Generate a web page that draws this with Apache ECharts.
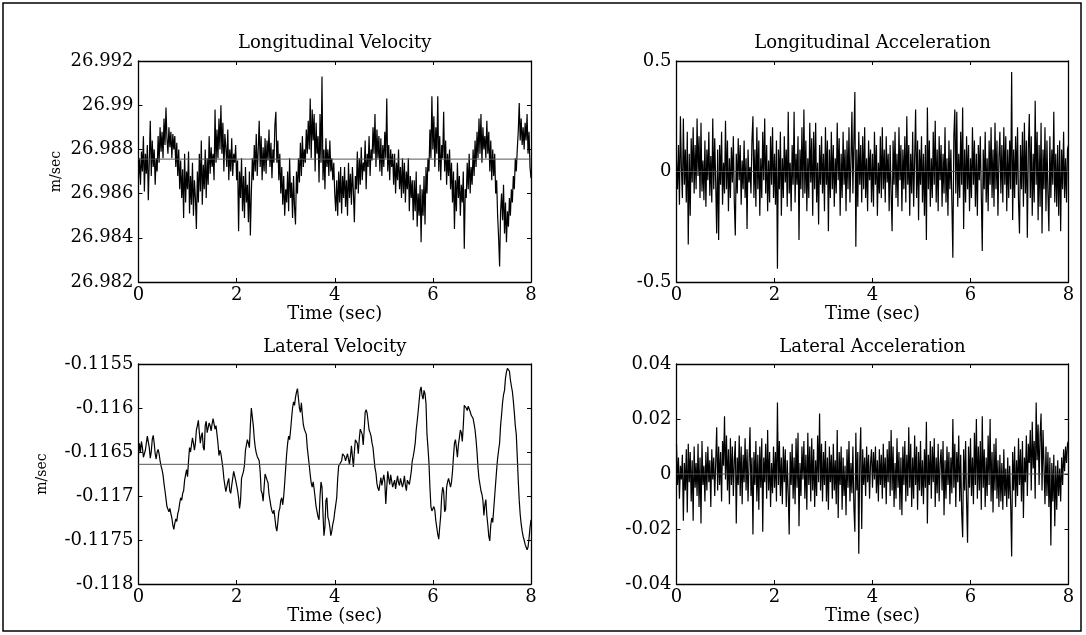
<!DOCTYPE html>
<html><head><meta charset="utf-8">
<script src="https://cdn.jsdelivr.net/npm/echarts@6/dist/echarts.min.js"></script>
<style>html,body{margin:0;padding:0;background:#fff}#c{width:1086px;height:635px}</style>
</head><body><div id="c"></div>
<script>
// ---------- data ----------
const duration = 8; // seconds, samples evenly spaced from 0 to 8
const timeTickLabels = ['0', '2', '4', '6', '8'];
const panelTitles = ['Longitudinal Velocity', 'Longitudinal Acceleration', 'Lateral Velocity', 'Lateral Acceleration'];
const xAxisName = 'Time (sec)';
const yAxisUnit = 'm/sec';

const longVelTickLabels = ['26.982', '26.984', '26.986', '26.988', '26.99', '26.992'];
const longAccTickLabels = ['-0.5', '0', '0.5'];
const latVelTickLabels = ['-0.118', '-0.1175', '-0.117', '-0.1165', '-0.116', '-0.1155'];
const latAccTickLabels = ['-0.04', '-0.02', '0', '0.02', '0.04'];

const longVelMean = 26.98756;
const longAccMean = 0;
const latVelMean = -0.11664;
const latAccMean = 0;

const longitudinalVelocity = [
26.9867,26.9876,26.9864,26.9879,26.9870,26.9886,26.9861,26.9878,26.9869,26.9882,
26.9857,26.9875,26.9893,26.9868,26.9884,26.9872,26.9880,26.9864,26.9876,26.9870,
26.9886,26.9874,26.9890,26.9879,26.9888,26.9876,26.9894,26.9882,26.9899,26.9885,
26.9878,26.9890,26.9881,26.9888,26.9876,26.9887,26.9880,26.9886,26.9872,26.9883,
26.9868,26.9880,26.9862,26.9875,26.9858,26.9871,26.9849,26.9878,26.9856,26.9870,
26.9862,26.9879,26.9851,26.9868,26.9855,26.9874,26.9850,26.9866,26.9858,26.9844,
26.9870,26.9856,26.9878,26.9861,26.9884,26.9855,26.9873,26.9862,26.9880,26.9858,
26.9876,26.9864,26.9886,26.9869,26.9881,26.9872,26.9878,26.9866,26.9898,26.9874,
26.9889,26.9876,26.9894,26.9880,26.9900,26.9878,26.9892,26.9870,26.9887,26.9881,
26.9872,26.9889,26.9866,26.9880,26.9870,26.9885,26.9868,26.9878,26.9874,26.9882,
26.9866,26.9875,26.9843,26.9870,26.9858,26.9876,26.9852,26.9868,26.9849,26.9872,
26.9856,26.9864,26.9847,26.9870,26.9841,26.9860,26.9876,26.9866,26.9882,26.9870,
26.9887,26.9868,26.9880,26.9893,26.9872,26.9886,26.9866,26.9881,26.9870,26.9885,
26.9869,26.9884,26.9875,26.9889,26.9872,26.9883,26.9867,26.9880,26.9874,26.9891,
26.9897,26.9874,26.9884,26.9866,26.9878,26.9860,26.9872,26.9855,26.9868,26.9850,
26.9862,26.9856,26.9870,26.9852,26.9876,26.9858,26.9865,26.9849,26.9868,26.9854,
26.9846,26.9870,26.9860,26.9876,26.9865,26.9883,26.9868,26.9886,26.9872,26.9880,
26.9874,26.9889,26.9878,26.9893,26.9880,26.9903,26.9876,26.9898,26.9884,26.9896,
26.9870,26.9892,26.9878,26.9886,26.9865,26.9896,26.9874,26.9913,26.9866,26.9880,
26.9862,26.9885,26.9872,26.9880,26.9868,26.9884,26.9870,26.9876,26.9866,26.9874,
26.9860,26.9852,26.9866,26.9850,26.9870,26.9856,26.9872,26.9851,26.9868,26.9858,
26.9872,26.9854,26.9866,26.9850,26.9874,26.9858,26.9869,26.9855,26.9872,26.9861,
26.9847,26.9868,26.9862,26.9879,26.9860,26.9876,26.9864,26.9881,26.9866,26.9874,
26.9870,26.9884,26.9862,26.9878,26.9872,26.9886,26.9868,26.9880,26.9875,26.9890,
26.9878,26.9896,26.9872,26.9889,26.9876,26.9886,26.9870,26.9885,26.9868,26.9882,
26.9872,26.9888,26.9876,26.9903,26.9870,26.9882,26.9866,26.9880,26.9872,26.9878,
26.9864,26.9878,26.9860,26.9874,26.9866,26.9880,26.9862,26.9872,26.9858,26.9876,
26.9860,26.9874,26.9856,26.9870,26.9862,26.9876,26.9852,26.9868,26.9858,26.9866,
26.9848,26.9866,26.9852,26.9870,26.9845,26.9860,26.9850,26.9864,26.9838,26.9862,
26.9850,26.9868,26.9846,26.9872,26.9860,26.9876,26.9870,26.9889,26.9876,26.9904,
26.9880,26.9895,26.9872,26.9890,26.9878,26.9904,26.9870,26.9886,26.9866,26.9882,
26.9876,26.9897,26.9870,26.9884,26.9864,26.9878,26.9868,26.9880,26.9862,26.9874,
26.9856,26.9870,26.9844,26.9866,26.9852,26.9874,26.9858,26.9868,26.9850,26.9864,
26.9856,26.9870,26.9835,26.9862,26.9858,26.9874,26.9862,26.9878,26.9860,26.9872,
26.9864,26.9880,26.9868,26.9884,26.9872,26.9888,26.9876,26.9894,26.9878,26.9896,
26.9874,26.9890,26.9880,26.9886,26.9876,26.9893,26.9878,26.9888,26.9870,26.9884,
26.9866,26.9880,26.9868,26.9878,26.9860,26.9866,26.9850,26.9840,26.9827,26.9852,
26.9860,26.9848,26.9864,26.9842,26.9856,26.9838,26.9852,26.9845,26.9858,26.9850,
26.9862,26.9856,26.9868,26.9862,26.9876,26.9870,26.9880,26.9888,26.9901,26.9884,
26.9894,26.9882,26.9890,26.9880,26.9892,26.9884,26.9896,26.9878,26.9888,26.9872,
26.9867];

const longitudinalAcceleration = [
0.05,-0.08,0.12,-0.15,0.25,0.02,-0.12,0.24,-0.06,0.10,
-0.14,0.18,-0.33,0.08,-0.20,0.15,-0.05,0.20,-0.10,0.12,
-0.08,0.24,-0.02,0.16,-0.12,0.22,-0.09,0.05,-0.13,0.14,
-0.16,0.10,-0.04,0.18,-0.11,0.07,-0.14,0.24,-0.08,0.15,
-0.05,-0.28,0.10,-0.31,0.12,-0.06,0.18,-0.15,0.04,-0.10,
0.23,-0.08,0.14,-0.18,0.06,-0.12,0.11,-0.05,0.16,-0.14,
-0.29,0.08,-0.10,0.15,-0.04,0.12,-0.15,0.05,-0.08,0.14,
-0.12,0.06,-0.26,0.10,-0.05,0.02,-0.10,0.14,0.25,-0.12,
0.10,-0.16,0.20,-0.08,0.14,-0.20,0.06,-0.12,0.18,-0.04,
0.24,-0.10,0.12,-0.18,0.05,-0.14,0.16,-0.06,0.20,-0.12,
0.08,-0.15,0.14,-0.44,0.10,-0.08,0.18,-0.20,0.06,-0.12,
0.16,-0.05,0.10,-0.16,0.27,-0.10,0.04,-0.18,0.12,-0.06,
0.27,-0.14,0.08,-0.06,0.16,-0.31,0.10,-0.08,0.20,-0.12,
0.28,-0.10,0.14,-0.18,0.06,-0.12,0.22,-0.05,0.15,-0.20,
0.18,-0.08,0.22,-0.14,0.04,-0.24,0.12,-0.06,0.16,-0.10,
0.08,-0.18,0.20,-0.06,0.14,-0.27,0.10,-0.12,0.18,-0.08,
0.12,-0.16,0.06,-0.10,0.22,-0.04,0.15,-0.20,0.08,-0.12,
0.18,-0.06,0.10,-0.18,0.14,-0.08,0.20,-0.14,0.05,0.27,
-0.10,0.14,0.36,-0.34,0.10,-0.16,0.18,-0.06,0.12,-0.14,
0.16,-0.08,0.20,-0.12,0.06,-0.18,0.14,-0.04,0.10,-0.14,
0.08,-0.16,0.18,-0.06,0.12,-0.20,0.04,-0.10,0.16,-0.12,
0.20,-0.08,0.10,-0.14,0.16,-0.05,0.08,-0.18,0.12,-0.10,
-0.27,0.14,-0.06,0.18,-0.12,0.08,-0.16,0.20,-0.04,0.12,
-0.18,0.10,-0.08,0.16,-0.14,0.25,-0.06,0.12,-0.20,0.08,
-0.10,0.18,-0.16,0.06,0.28,-0.12,0.14,-0.22,0.10,-0.06,
0.16,-0.14,0.08,-0.20,0.12,-0.31,0.29,-0.08,0.14,-0.16,
0.06,-0.12,0.18,-0.06,0.23,-0.14,0.10,-0.18,0.16,-0.04,
0.12,-0.16,0.08,-0.10,0.20,-0.14,0.06,-0.20,0.14,-0.08,
0.10,-0.14,-0.39,0.16,0.28,-0.10,0.27,-0.16,0.08,-0.12,
0.18,-0.06,0.29,-0.26,0.10,-0.14,0.16,-0.08,0.12,-0.18,
0.06,-0.12,0.20,-0.06,0.14,-0.16,0.08,-0.20,0.12,-0.04,
0.16,-0.10,-0.36,0.10,-0.08,0.18,-0.14,0.06,-0.18,0.14,
-0.06,0.20,-0.12,0.10,-0.16,0.22,-0.08,0.14,-0.20,0.06,
0.18,-0.10,0.12,-0.14,0.20,-0.06,0.16,-0.18,0.10,-0.12,
0.14,-0.08,0.45,-0.22,0.10,-0.12,0.16,-0.06,0.20,-0.14,
-0.28,0.12,-0.08,0.18,-0.16,0.22,-0.10,0.14,-0.30,0.10,
0.26,-0.12,0.16,-0.20,0.08,-0.14,0.32,-0.06,0.18,-0.22,
0.12,-0.16,0.22,-0.28,0.10,-0.08,0.20,-0.18,0.14,-0.10,
-0.27,0.16,-0.12,0.10,-0.06,0.27,-0.14,0.08,-0.16,0.12,
-0.20,0.14,-0.27,0.10,-0.08,0.18,-0.12,0.06,-0.14,0.10,
0.12];

const lateralVelocity = [
-0.11653,-0.11640,-0.11650,-0.11638,-0.11645,-0.11656,-0.11658,-0.11648,-0.11640,-0.11632,
-0.11630,-0.11645,-0.11657,-0.11650,-0.11636,-0.11631,-0.11640,-0.11652,-0.11658,-0.11650,
-0.11647,-0.11652,-0.11660,-0.11666,-0.11670,-0.11676,-0.11686,-0.11694,-0.11703,-0.11712,
-0.11714,-0.11718,-0.11714,-0.11720,-0.11725,-0.11733,-0.11738,-0.11731,-0.11726,-0.11729,
-0.11720,-0.11716,-0.11708,-0.11702,-0.11705,-0.11697,-0.11694,-0.11682,-0.11676,-0.11670,
-0.11678,-0.11660,-0.11645,-0.11650,-0.11652,-0.11634,-0.11640,-0.11648,-0.11640,-0.11625,
-0.11620,-0.11614,-0.11628,-0.11640,-0.11632,-0.11628,-0.11645,-0.11648,-0.11620,-0.11615,
-0.11628,-0.11628,-0.11617,-0.11620,-0.11626,-0.11618,-0.11612,-0.11618,-0.11624,-0.11620,
-0.11618,-0.11640,-0.11654,-0.11648,-0.11652,-0.11660,-0.11668,-0.11680,-0.11688,-0.11695,
-0.11696,-0.11684,-0.11680,-0.11694,-0.11697,-0.11688,-0.11680,-0.11672,-0.11674,-0.11682,
-0.11688,-0.11694,-0.11702,-0.11714,-0.11705,-0.11680,-0.11676,-0.11672,-0.11665,-0.11648,
-0.11642,-0.11636,-0.11640,-0.11645,-0.11620,-0.11600,-0.11598,-0.11620,-0.11635,-0.11645,
-0.11651,-0.11655,-0.11656,-0.11660,-0.11672,-0.11694,-0.11697,-0.11706,-0.11690,-0.11675,
-0.11676,-0.11682,-0.11685,-0.11698,-0.11705,-0.11712,-0.11717,-0.11720,-0.11716,-0.11725,
-0.11735,-0.11740,-0.11730,-0.11718,-0.11714,-0.11705,-0.11702,-0.11710,-0.11700,-0.11685,
-0.11668,-0.11652,-0.11640,-0.11632,-0.11636,-0.11625,-0.11612,-0.11600,-0.11593,-0.11597,
-0.11588,-0.11582,-0.11578,-0.11580,-0.11600,-0.11605,-0.11594,-0.11608,-0.11619,-0.11624,
-0.11622,-0.11630,-0.11645,-0.11655,-0.11665,-0.11676,-0.11685,-0.11690,-0.11684,-0.11692,
-0.11702,-0.11712,-0.11718,-0.11724,-0.11727,-0.11700,-0.11684,-0.11690,-0.11720,-0.11745,
-0.11735,-0.11705,-0.11702,-0.11724,-0.11728,-0.11735,-0.11745,-0.11740,-0.11732,-0.11727,
-0.11718,-0.11710,-0.11702,-0.11680,-0.11666,-0.11665,-0.11664,-0.11660,-0.11652,-0.11650,
-0.11655,-0.11660,-0.11658,-0.11652,-0.11653,-0.11664,-0.11655,-0.11643,-0.11655,-0.11667,
-0.11650,-0.11636,-0.11634,-0.11640,-0.11652,-0.11635,-0.11624,-0.11625,-0.11630,-0.11642,
-0.11625,-0.11605,-0.11602,-0.11606,-0.11608,-0.11625,-0.11628,-0.11632,-0.11640,-0.11645,
-0.11657,-0.11668,-0.11674,-0.11686,-0.11691,-0.11694,-0.11692,-0.11679,-0.11688,-0.11690,
-0.11676,-0.11684,-0.11709,-0.11690,-0.11672,-0.11680,-0.11687,-0.11676,-0.11678,-0.11690,
-0.11690,-0.11682,-0.11692,-0.11684,-0.11677,-0.11685,-0.11688,-0.11680,-0.11682,-0.11690,
-0.11685,-0.11677,-0.11688,-0.11694,-0.11682,-0.11684,-0.11687,-0.11680,-0.11672,-0.11660,
-0.11655,-0.11648,-0.11640,-0.11625,-0.11615,-0.11604,-0.11592,-0.11580,-0.11576,-0.11586,
-0.11590,-0.11580,-0.11584,-0.11595,-0.11630,-0.11645,-0.11662,-0.11690,-0.11712,-0.11717,
-0.11719,-0.11712,-0.11716,-0.11728,-0.11736,-0.11744,-0.11749,-0.11735,-0.11722,-0.11700,
-0.11690,-0.11695,-0.11718,-0.11715,-0.11690,-0.11684,-0.11680,-0.11679,-0.11690,-0.11684,
-0.11672,-0.11655,-0.11640,-0.11636,-0.11645,-0.11656,-0.11642,-0.11634,-0.11625,-0.11628,
-0.11638,-0.11620,-0.11597,-0.11596,-0.11600,-0.11603,-0.11598,-0.11600,-0.11604,-0.11608,
-0.11606,-0.11612,-0.11618,-0.11625,-0.11636,-0.11650,-0.11668,-0.11680,-0.11687,-0.11694,
-0.11698,-0.11705,-0.11722,-0.11710,-0.11704,-0.11722,-0.11733,-0.11746,-0.11751,-0.11733,
-0.11725,-0.11730,-0.11715,-0.11700,-0.11685,-0.11670,-0.11657,-0.11648,-0.11640,-0.11620,
-0.11608,-0.11594,-0.11585,-0.11580,-0.11566,-0.11559,-0.11555,-0.11554,-0.11558,-0.11568,
-0.11575,-0.11581,-0.11592,-0.11605,-0.11620,-0.11630,-0.11655,-0.11682,-0.11705,-0.11721,
-0.11732,-0.11740,-0.11746,-0.11750,-0.11755,-0.11758,-0.11761,-0.11758,-0.11748,-0.11736,
-0.11727];

const lateralAcceleration = [
0.011,-0.004,0.006,-0.009,0.003,-0.002,0.007,-0.017,0.004,-0.006,
0.009,-0.014,0.011,-0.003,0.008,-0.010,0.005,-0.017,0.010,-0.005,
0.004,-0.008,0.011,-0.012,0.006,-0.018,0.012,-0.004,0.003,-0.010,
0.008,-0.006,0.010,-0.003,0.005,-0.012,0.009,-0.002,0.006,-0.008,
0.004,0.017,-0.006,0.010,-0.004,0.008,-0.010,0.012,0.003,0.021,
-0.002,0.014,-0.006,0.009,-0.011,0.013,-0.004,0.010,-0.008,0.005,
0.012,-0.018,0.006,-0.004,0.014,-0.008,0.010,-0.011,0.007,-0.003,
0.013,-0.006,0.009,-0.010,0.004,0.017,-0.008,0.006,-0.022,0.008,
-0.004,0.012,-0.010,0.007,-0.013,0.010,-0.005,0.013,-0.021,0.006,
-0.003,0.011,-0.009,0.016,-0.006,0.008,-0.012,0.004,-0.007,0.010,
-0.005,0.008,-0.010,0.026,-0.004,0.012,-0.008,0.006,-0.011,0.010,
-0.003,0.009,-0.012,0.005,-0.007,-0.022,0.008,-0.004,0.011,-0.009,
0.006,-0.011,0.013,-0.005,0.015,-0.019,0.004,-0.008,0.010,-0.002,
0.012,-0.009,0.007,-0.013,0.015,-0.004,0.010,-0.010,0.013,-0.006,
0.009,-0.012,0.005,-0.008,0.014,-0.003,0.022,-0.006,0.011,-0.010,
0.008,-0.004,0.012,-0.010,0.006,-0.013,0.010,-0.003,0.007,-0.009,
0.011,-0.006,0.005,-0.011,0.016,-0.016,0.008,-0.004,0.010,-0.013,
0.006,-0.008,0.003,-0.015,0.009,-0.005,0.012,-0.010,0.004,-0.007,
0.010,-0.012,-0.021,0.015,-0.006,0.008,-0.029,0.005,0.017,-0.020,
0.009,-0.004,0.006,-0.008,0.010,-0.003,0.007,-0.009,0.004,0.009,
-0.005,0.008,-0.002,0.010,-0.007,0.005,-0.010,0.009,-0.004,0.007,
-0.009,0.011,-0.005,0.006,-0.011,0.009,-0.003,0.012,-0.008,0.016,
-0.006,0.010,-0.012,0.004,-0.009,0.013,-0.005,0.008,-0.013,0.006,
-0.015,0.010,-0.004,0.012,-0.010,0.007,-0.008,0.017,-0.005,0.011,
-0.012,0.006,-0.009,0.014,-0.004,0.010,-0.013,0.008,-0.006,0.012,
-0.008,0.005,-0.011,0.009,-0.005,0.019,-0.018,0.007,-0.004,0.012,
-0.009,0.010,-0.003,0.013,-0.012,0.006,-0.007,0.011,-0.010,0.004,
0.009,-0.006,0.012,-0.015,0.005,-0.009,0.010,-0.004,0.008,-0.011,
0.006,-0.007,0.020,-0.005,0.011,-0.012,0.008,-0.003,0.014,-0.010,
0.007,-0.014,-0.023,0.009,-0.006,0.012,-0.010,-0.025,0.010,-0.005,
0.013,-0.008,0.006,-0.011,0.015,-0.004,0.020,-0.009,0.010,-0.006,
0.012,-0.013,0.021,-0.005,0.009,-0.012,0.006,-0.008,0.014,-0.004,
0.020,-0.010,0.008,-0.014,0.011,-0.006,0.013,-0.009,0.005,-0.012,
0.007,-0.010,0.004,-0.013,0.009,-0.008,0.002,-0.012,0.006,-0.009,
0.003,-0.011,-0.030,0.008,-0.006,0.010,-0.012,0.005,-0.008,0.013,
-0.004,0.009,-0.010,0.012,-0.016,0.006,-0.003,0.014,-0.008,0.011,
0.004,0.016,-0.006,0.019,0.002,0.012,-0.009,0.026,0.005,0.018,
-0.004,0.014,0.022,-0.006,0.016,0.003,-0.011,0.010,-0.008,0.008,
-0.012,0.006,-0.026,0.004,-0.010,0.007,-0.019,0.003,-0.013,0.005,
-0.008,0.002,-0.010,0.006,-0.004,0.009,0.001,0.010,0.004,0.011,
0.012];

// ---------- chart ----------
const FONT = 'DejaVu Serif';
const panels = [
  {grid: {left: 138.5, top: 61, width: 392.5, height: 221}, values: longitudinalVelocity, mean: longVelMean, lw: 1.2,
   yMin: 26.982, yMax: 26.992, yInt: 0.002, yLabels: longVelTickLabels, title: panelTitles[0], titleY: 43, unitX: 56, showUnit: true},
  {grid: {left: 676.5, top: 61, width: 392, height: 221}, values: longitudinalAcceleration, mean: longAccMean, lw: 1.2,
   yMin: -0.5, yMax: 0.5, yInt: 0.5, yLabels: longAccTickLabels, title: panelTitles[1], titleY: 43, showUnit: false},
  {grid: {left: 138.5, top: 364, width: 392.5, height: 220}, values: lateralVelocity, mean: latVelMean, lw: 1.2,
   yMin: -0.118, yMax: -0.1155, yInt: 0.0005, yLabels: latVelTickLabels, title: panelTitles[2], titleY: 347, unitX: 42, showUnit: true},
  {grid: {left: 676.5, top: 364, width: 392, height: 220}, values: lateralAcceleration, mean: latAccMean, lw: 1.2,
   yMin: -0.04, yMax: 0.04, yInt: 0.02, yLabels: latAccTickLabels, title: panelTitles[3], titleY: 347, showUnit: false}
];

function labelFor(list, interval) {
  return function (v) {
    const hit = list.find(l => Math.abs(Number(l) - v) < interval / 100);
    return hit === undefined ? '' : hit;
  };
}

const axisLineStyle = {color: '#000', width: 1.3};
const grids = [], xAxes = [], yAxes = [], series = [], graphics = [];

panels.forEach((p, g) => {
  grids.push(Object.assign({containLabel: false, outerBoundsMode: 'none', show: false}, p.grid));
  const baseX = {type: 'value', gridIndex: g, min: 0, max: duration, interval: 2,
    splitLine: {show: false}, axisLine: {show: true, onZero: false, lineStyle: axisLineStyle},
    axisTick: {show: true, inside: true, length: 4, lineStyle: {color: '#000', width: 1}}};
  xAxes.push(Object.assign({}, baseX, {position: 'bottom',
    name: xAxisName, nameLocation: 'middle', nameGap: 23, nameMoveOverlap: false,
    nameTextStyle: {fontFamily: FONT, fontSize: 18, color: '#000'},
    axisLabel: {show: true, margin: 4, fontFamily: FONT, fontSize: 18, color: '#000',
      showMinLabel: true, showMaxLabel: true, hideOverlap: false,
      formatter: labelFor(timeTickLabels, 2)}}));
  xAxes.push(Object.assign({}, baseX, {position: 'top', axisLabel: {show: false}}));
  const baseY = {type: 'value', gridIndex: g, min: p.yMin, max: p.yMax, interval: p.yInt,
    splitLine: {show: false}, axisLine: {show: true, onZero: false, lineStyle: axisLineStyle},
    axisTick: {show: true, inside: true, length: 4, lineStyle: {color: '#000', width: 1}}};
  yAxes.push(Object.assign({}, baseY, {position: 'left',
    axisLabel: {show: true, margin: 5, fontFamily: FONT, fontSize: 18, color: '#000',
      showMinLabel: true, showMaxLabel: true, hideOverlap: false,
      formatter: labelFor(p.yLabels, p.yInt)}}));
  yAxes.push(Object.assign({}, baseY, {position: 'right', axisLabel: {show: false}}));

  const n = p.values.length;
  series.push({type: 'line', xAxisIndex: 2 * g, yAxisIndex: 2 * g,
    data: p.values.map((v, i) => [i * duration / (n - 1), v]),
    showSymbol: false, symbol: 'none', sampling: null, silent: true, z: 2,
    lineStyle: {color: '#000', width: p.lw}});
  series.push({type: 'line', xAxisIndex: 2 * g, yAxisIndex: 2 * g,
    data: [[0, p.mean], [duration, p.mean]],
    showSymbol: false, symbol: 'none', silent: true, z: 3,
    lineStyle: {color: '#555', width: 1}});

  graphics.push({type: 'text', x: p.grid.left + p.grid.width / 2, y: p.titleY, silent: true,
    style: {text: p.title, fontFamily: FONT, fontSize: 18, fill: '#000', align: 'center', verticalAlign: 'middle'}});
  if (p.showUnit) {
    graphics.push({type: 'text', x: p.unitX, y: p.grid.top + p.grid.height / 2, rotation: Math.PI / 2, silent: true,
      style: {text: yAxisUnit, fontFamily: FONT, fontSize: 14, fill: '#000', align: 'center', verticalAlign: 'middle'}});
  }
});

graphics.push({type: 'rect', silent: true, z: -1,
  shape: {x: 3, y: 3, width: 1078, height: 628},
  style: {fill: 'none', stroke: '#000', lineWidth: 1.5}});

const chart = echarts.init(document.getElementById('c'), null, {renderer: 'canvas'});
chart.setOption({
  animation: false,
  backgroundColor: '#fff',
  grid: grids, xAxis: xAxes, yAxis: yAxes, series: series, graphic: graphics
});
</script></body></html>
